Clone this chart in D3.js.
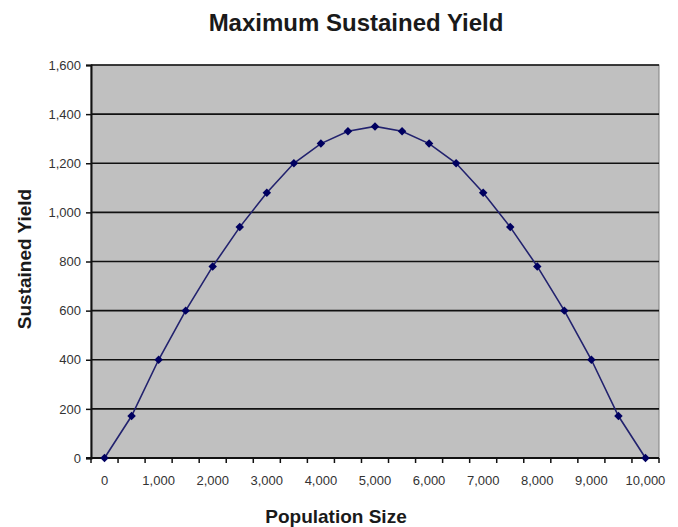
<!DOCTYPE html>
<html>
<head>
<meta charset="utf-8">
<script src="https://cdn.jsdelivr.net/npm/d3@7"></script>
<style>
  body { margin: 0; background: #fff; }
  text { font-family: Arial, "Liberation Sans", sans-serif; }
</style>
</head>
<body>
<div id="chart"></div>
<script>
// population sizes (categories) and the yield
const populations = [0, 500, 1000, 1500, 2000, 2500, 3000, 3500, 4000, 4500, 5000,
  5500, 6000, 6500, 7000, 7500, 8000, 8500, 9000, 9500, 10000];
const yields = [0, 171, 400, 600, 780, 940, 1080, 1200, 1280, 1330, 1350,
  1330, 1280, 1200, 1080, 940, 780, 600, 400, 171, 0];
const yTicks = [0, 200, 400, 600, 800, 1000, 1200, 1400, 1600];
const xLabels = [0, 1000, 2000, 3000, 4000, 5000, 6000, 7000, 8000, 9000, 10000];

const W = 678, H = 527;
const plot = { left: 91, right: 659, top: 65, bottom: 458 };

const svg = d3.select('#chart').append('svg')
  .attr('width', W)
  .attr('height', H);

// excel style category axis, ticks between categories
const x = d3.scaleBand()
  .domain(populations)
  .range([plot.left, plot.right])
  .paddingInner(0).paddingOuter(0);
const cx = d => x(d) + x.bandwidth() / 2;

const y = d3.scaleLinear()
  .domain([0, 1600])
  .range([plot.bottom, plot.top]);

// plot area
svg.append('rect')
  .attr('x', plot.left).attr('y', plot.top)
  .attr('width', plot.right - plot.left)
  .attr('height', plot.bottom - plot.top)
  .attr('fill', '#c0c0c0')
  .attr('stroke', '#808080')
  .attr('stroke-width', 1);

// gridlines
svg.append('g')
  .selectAll('line')
  .data(yTicks.filter(d => d > 0))
  .enter()
  .append('line')
    .attr('x1', plot.left).attr('x2', plot.right)
    .attr('y1', d => y(d)).attr('y2', d => y(d))
    .attr('stroke', '#111')
    .attr('stroke-width', 1.6);

// y axis
const yAxis = svg.append('g')
  .attr('transform', 'translate(' + plot.left + ',0)')
  .call(d3.axisLeft(y).tickValues(yTicks).tickSize(5).tickPadding(5).tickFormat(d3.format(',')));
yAxis.select('.domain').attr('stroke', '#111').attr('stroke-width', 2);
yAxis.selectAll('.tick line').attr('stroke', '#111').attr('stroke-width', 1.5);
yAxis.selectAll('text')
  .attr('font-size', 13).attr('fill', '#333')
  .style('font-family', 'Arial, "Liberation Sans", sans-serif');

// x axis: ticks at band edges, labels every 1000
const edges = populations.map(d => x(d)).concat([plot.right]);
const xg = svg.append('g');
xg.append('line')
  .attr('x1', plot.left - 5).attr('x2', plot.right)
  .attr('y1', plot.bottom).attr('y2', plot.bottom)
  .attr('stroke', '#111').attr('stroke-width', 2);
xg.selectAll('.xt')
  .data(edges)
  .enter()
  .append('line')
    .attr('x1', d => d).attr('x2', d => d)
    .attr('y1', plot.bottom).attr('y2', plot.bottom + 5)
    .attr('stroke', '#111').attr('stroke-width', 1.5);
xg.selectAll('.xl')
  .data(xLabels)
  .enter()
  .append('text')
    .attr('x', d => cx(d))
    .attr('y', 485)
    .attr('text-anchor', 'middle')
    .attr('font-size', 13)
    .attr('fill', '#333')
    .text(d => d3.format(',')(d));

// the curve
const line = d3.line()
  .x((d, i) => cx(populations[i]))
  .y(d => y(d));
svg.append('path')
  .datum(yields)
  .attr('d', line)
  .attr('fill', 'none')
  .attr('stroke', '#22226e')
  .attr('stroke-width', 1.6);

svg.append('g')
  .selectAll('path')
  .data(yields)
  .enter()
  .append('path')
    .attr('d', d3.symbol(d3.symbolSquare, 36))
    .attr('transform', (d, i) => 'translate(' + cx(populations[i]) + ',' + y(d) + ') rotate(45)')
    .attr('fill', '#000060');

// titles
svg.append('text')
  .attr('x', 356).attr('y', 31)
  .attr('text-anchor', 'middle')
  .attr('font-size', 24).attr('font-weight', 'bold')
  .attr('fill', '#1a1a1a')
  .text('Maximum Sustained Yield');

svg.append('text')
  .attr('x', 336).attr('y', 523)
  .attr('text-anchor', 'middle')
  .attr('font-size', 19).attr('font-weight', 'bold')
  .attr('fill', '#1a1a1a')
  .text('Population Size');

svg.append('text')
  .attr('transform', 'translate(31,259) rotate(-90)')
  .attr('text-anchor', 'middle')
  .attr('font-size', 19).attr('font-weight', 'bold')
  .attr('fill', '#1a1a1a')
  .text('Sustained Yield');
</script>
</body>
</html>
